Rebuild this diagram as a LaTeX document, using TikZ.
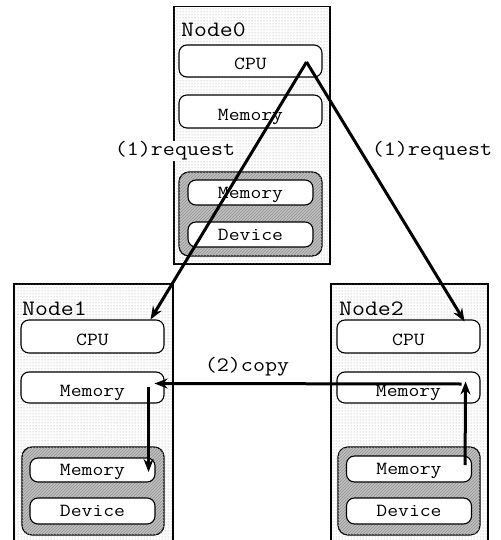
\documentclass[tikz,border=0pt]{standalone}
\usepackage{fontspec}
\setmonofont[FakeStretch=1.14]{Latin Modern Mono}
\usetikzlibrary{patterns,arrows.meta,calc}
\begin{document}
\begin{tikzpicture}[x=1pt,y=-1pt,
  frame/.style={draw, line width=1.5pt, fill=white, postaction={pattern=dots, pattern color=gray!80}, inner sep=0pt, anchor=north west},
  graybox/.style={draw, line width=1.2pt, rounded corners=10pt, fill=gray!50, postaction={pattern=north east lines, pattern color=gray!85}, inner sep=0pt, minimum width=142pt},
  unit/.style={draw, line width=1.1pt, rounded corners=8pt, fill=white, inner sep=0pt, font=\ttfamily\fontsize{18.5}{19}\selectfont, minimum width=143pt, minimum height=32pt, text height=17.7pt, text depth=0pt},
  iunit/.style={unit, minimum width=125pt, minimum height=25pt, text height=11pt},
  title/.style={font=\ttfamily\fontsize{22}{24}\selectfont, inner sep=0pt, anchor=base west},
  lbl/.style={font=\ttfamily\fontsize{20.5}{22}\selectfont, inner sep=1pt},
  arr/.style={line width=3pt, -{Stealth[length=13pt, width=10pt]}}
]
\useasboundingbox (0,0) rectangle (500,540);
\clip (0,0) rectangle (500,540);

% Node0
\node[frame, minimum width=156pt, minimum height=257pt] (n0) at (173,6) {};
\node[title] (n0t) at (181,37) {Node0};
\node[unit] (n0cpu) at (250.5,61) {CPU};
\node[unit, minimum height=33pt] (n0mem) at (250.5,111.5) {Memory};
\node[graybox, minimum width=143pt, minimum height=84pt] (n0g) at (250.5,214) {};
\node[iunit] (n0imem) at (250.5,192.5) {Memory};
\node[iunit] (n0dev) at (250.5,234.5) {Device};

% Node1
\node[frame, minimum width=159pt, minimum height=262pt] (n1) at (13,283) {};
\node[title] (n1t) at (22,315) {Node1};
\node[unit, minimum height=33pt] (n1cpu) at (92.5,336.5) {CPU};
\node[unit, minimum height=31pt] (n1mem) at (92.5,387.5) {Memory};
\node[graybox, minimum height=88pt] (n1g) at (93,491) {};
\node[iunit, minimum height=24pt] (n1imem) at (92.5,470) {Memory};
\node[iunit, minimum height=26pt] (n1dev) at (92.5,511) {Device};

% Node2
\node[frame, minimum width=157pt, minimum height=262pt] (n2) at (330,283) {};
\node[title] (n2t) at (339,315) {Node2};
\node[unit, minimum height=33pt] (n2cpu) at (408.5,336.5) {CPU};
\node[unit, minimum height=31pt] (n2mem) at (408.5,387.5) {Memory};
\node[graybox, minimum height=88pt] (n2g) at (409,491) {};
\node[iunit, minimum height=26pt] (n2imem) at (409,469) {Memory};
\node[iunit, minimum height=26pt] (n2dev) at (409,511) {Device};

% connectors
\coordinate (s0) at ($(n0cpu.east)+(-16,1)$);
\draw[arr] (s0) -- ($(n1cpu.north east)+(-14,0)$);
\draw[arr] (s0) -- ($(n2cpu.north east)+(-16,2)$);
\draw[arr] ($(n2mem.east)+(-19,-3.5)$) -- ($(n1mem.east)+(-10,-4)$);
\draw[arr] ($(n1mem.east)+(-16,-1)$) -- ($(n1imem.east)+(-7,2)$);
\draw[arr] ($(n2imem.east)+(-7,-4)$) -- ($(n2mem.east)+(-15,-6)$);

% labels
\node[lbl, fill=white] (l1) at (175,151) {(1)request};
\node[lbl] (l2) at (432,151) {(1)request};
\node[lbl] (l3) at (247,367) {(2)copy};
\end{tikzpicture}
\end{document}
